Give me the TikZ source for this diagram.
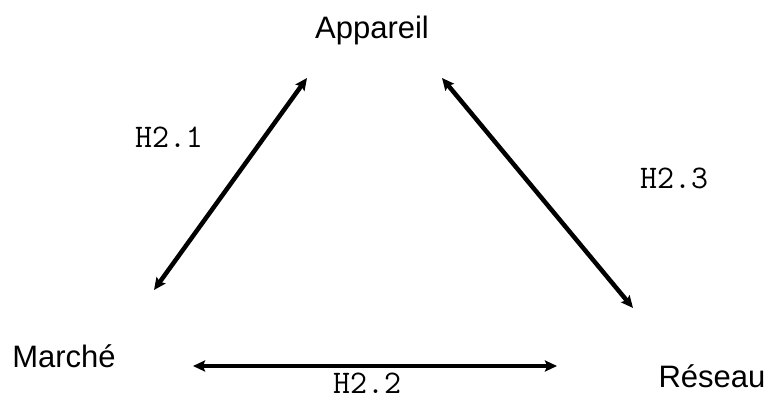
\documentclass[tikz,border=0pt]{standalone}
\usepackage{fontspec}
\setmainfont{Liberation Sans}
\usetikzlibrary{arrows.meta}

\begin{document}
\begin{tikzpicture}[x=1pt, y=-1pt]
  \tikzset{
    lbl/.style={inner sep=0pt, anchor=base, font=\fontsize{31}{36}\selectfont},
    hyp/.style={inner sep=0pt, anchor=base, font=\ttfamily\fontsize{33}{36}\selectfont},
    rel/.style={draw=black, line width=4.5pt,
      {Stealth[length=12pt, width=11pt, inset=2pt]}-{Stealth[length=12pt, width=11pt, inset=2pt]}}
  }
  \useasboundingbox (0,0) rectangle (767,398);

  % the three poles
  \node[lbl] (app) at (372,39) {Appareil};
  \node[lbl] (mar) at (64,367) {Marché};
  \node[lbl] (res) at (712,387) {Réseau};

  % arrow ends (tips)
  \coordinate (a1) at (154,290);   % near Marché
  \coordinate (a2) at (307,78);    % near Appareil, left
  \coordinate (b1) at (442,78);    % near Appareil, right
  \coordinate (b2) at (633,308);   % near Réseau
  \coordinate (c1) at (193,366);   % bottom left
  \coordinate (c2) at (557,366);   % bottom right

  % relations
  \draw[rel] (a1) -- (a2);
  \draw[rel] (b1) -- (b2);
  \draw[rel] (c1) -- (c2);

  % hypotheses
  \node[hyp] (h21) at (169,148) {H2.1};
  \node[hyp] (h23) at (674,188) {H2.3};
  \node[hyp] (h22) at (367,393) {H2.2};
\end{tikzpicture}
\end{document}
